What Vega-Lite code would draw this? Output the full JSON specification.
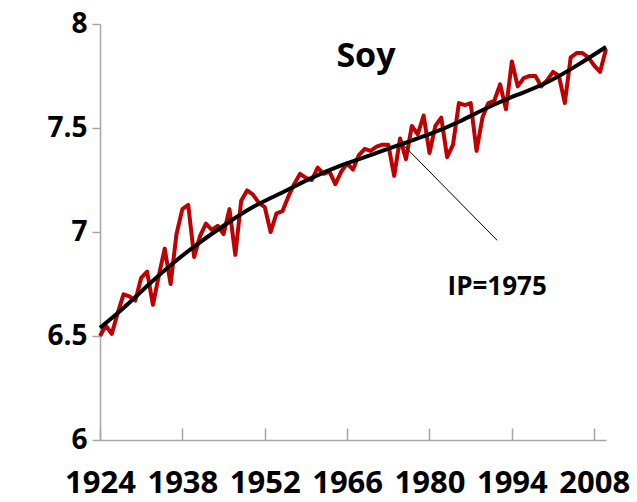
{
  "$schema": "https://vega.github.io/schema/vega-lite/v6.json",
  "width": 506,
  "height": 416,
  "autosize": {"type": "none"},
  "padding": {"left": 100, "top": 24, "right": 31, "bottom": 62},
  "background": "white",
  "config": {
    "view": {"stroke": null},
    "font": "Open Sans",
    "axis": {"grid": false, "title": null, "domainColor": "#A6A6A6", "tickColor": "#A6A6A6", "domainWidth": 1.5, "tickWidth": 1.5, "labelFont": "Open Sans", "labelFontWeight": "bold", "labelColor": "black", "labelFontSize": 28, "labelOverlap": false, "labelFlush": false}
  },
  "datasets": {
    "soy": [
      {"year": 1924, "value": 6.50}, {"year": 1925, "value": 6.55}, {"year": 1926, "value": 6.51}, {"year": 1927, "value": 6.61},
      {"year": 1928, "value": 6.70}, {"year": 1929, "value": 6.69}, {"year": 1930, "value": 6.67}, {"year": 1931, "value": 6.78},
      {"year": 1932, "value": 6.81}, {"year": 1933, "value": 6.65}, {"year": 1934, "value": 6.79}, {"year": 1935, "value": 6.92},
      {"year": 1936, "value": 6.75}, {"year": 1937, "value": 6.99}, {"year": 1938, "value": 7.11}, {"year": 1939, "value": 7.13},
      {"year": 1940, "value": 6.88}, {"year": 1941, "value": 6.98}, {"year": 1942, "value": 7.04}, {"year": 1943, "value": 7.01},
      {"year": 1944, "value": 7.03}, {"year": 1945, "value": 6.99}, {"year": 1946, "value": 7.11}, {"year": 1947, "value": 6.89},
      {"year": 1948, "value": 7.15}, {"year": 1949, "value": 7.20}, {"year": 1950, "value": 7.18}, {"year": 1951, "value": 7.14},
      {"year": 1952, "value": 7.12}, {"year": 1953, "value": 7.00}, {"year": 1954, "value": 7.09}, {"year": 1955, "value": 7.10},
      {"year": 1956, "value": 7.17}, {"year": 1957, "value": 7.23}, {"year": 1958, "value": 7.28}, {"year": 1959, "value": 7.26},
      {"year": 1960, "value": 7.25}, {"year": 1961, "value": 7.31}, {"year": 1962, "value": 7.28}, {"year": 1963, "value": 7.29},
      {"year": 1964, "value": 7.23}, {"year": 1965, "value": 7.29}, {"year": 1966, "value": 7.33}, {"year": 1967, "value": 7.30},
      {"year": 1968, "value": 7.37}, {"year": 1969, "value": 7.40}, {"year": 1970, "value": 7.39}, {"year": 1971, "value": 7.41},
      {"year": 1972, "value": 7.42}, {"year": 1973, "value": 7.42}, {"year": 1974, "value": 7.27}, {"year": 1975, "value": 7.45},
      {"year": 1976, "value": 7.35}, {"year": 1977, "value": 7.51}, {"year": 1978, "value": 7.47}, {"year": 1979, "value": 7.56},
      {"year": 1980, "value": 7.38}, {"year": 1981, "value": 7.51}, {"year": 1982, "value": 7.55}, {"year": 1983, "value": 7.36},
      {"year": 1984, "value": 7.42}, {"year": 1985, "value": 7.62}, {"year": 1986, "value": 7.61}, {"year": 1987, "value": 7.62},
      {"year": 1988, "value": 7.39}, {"year": 1989, "value": 7.55}, {"year": 1990, "value": 7.62}, {"year": 1991, "value": 7.63},
      {"year": 1992, "value": 7.71}, {"year": 1993, "value": 7.59}, {"year": 1994, "value": 7.82}, {"year": 1995, "value": 7.70},
      {"year": 1996, "value": 7.74}, {"year": 1997, "value": 7.75}, {"year": 1998, "value": 7.75}, {"year": 1999, "value": 7.70},
      {"year": 2000, "value": 7.73}, {"year": 2001, "value": 7.77}, {"year": 2002, "value": 7.75}, {"year": 2003, "value": 7.62},
      {"year": 2004, "value": 7.84}, {"year": 2005, "value": 7.86}, {"year": 2006, "value": 7.86}, {"year": 2007, "value": 7.84},
      {"year": 2008, "value": 7.80}, {"year": 2009, "value": 7.77}, {"year": 2010, "value": 7.88}
    ],
    "fit": [
      {"year": 1924, "value": 6.54}, {"year": 1928, "value": 6.635}, {"year": 1932, "value": 6.74}, {"year": 1936, "value": 6.84},
      {"year": 1940, "value": 6.93}, {"year": 1945, "value": 7.03}, {"year": 1950, "value": 7.12}, {"year": 1955, "value": 7.19},
      {"year": 1960, "value": 7.26}, {"year": 1965, "value": 7.32}, {"year": 1970, "value": 7.37}, {"year": 1975, "value": 7.42},
      {"year": 1980, "value": 7.47}, {"year": 1985, "value": 7.53}, {"year": 1990, "value": 7.60}, {"year": 1995, "value": 7.66},
      {"year": 2000, "value": 7.72}, {"year": 2005, "value": 7.80}, {"year": 2010, "value": 7.89}
    ],
    "pointer": [{"year": 1975.5, "value": 7.42, "year2": 1991.5, "value2": 6.96}],
    "labels": [
      {"year": 1969.2, "value": 7.84, "text": "Soy", "size": 34},
      {"year": 1991.5, "value": 6.735, "text": "IP=1975", "size": 26}
    ]
  },
  "layer": [
    {
      "data": {"name": "soy"},
      "mark": {"type": "line", "color": "#C00000", "strokeWidth": 4, "strokeJoin": "round"},
      "encoding": {
        "x": {"field": "year", "type": "quantitative", "scale": {"domain": [1924, 2010], "nice": false, "zero": false},
          "axis": {"values": [1924, 1938, 1952, 1966, 1980, 1994, 2008], "format": "d", "tickSize": -12, "labelPadding": 40, "labelFontSize": 31}},
        "y": {"field": "value", "type": "quantitative", "scale": {"domain": [6, 8], "nice": false, "zero": false},
          "axis": {"values": [6, 6.5, 7, 7.5, 8], "format": "~g", "tickSize": 8, "labelPadding": 5}}
      }
    },
    {
      "data": {"name": "fit"},
      "mark": {"type": "line", "color": "black", "strokeWidth": 4, "interpolate": "natural"},
      "encoding": {
        "x": {"field": "year", "type": "quantitative"},
        "y": {"field": "value", "type": "quantitative"}
      }
    },
    {
      "data": {"name": "pointer"},
      "mark": {"type": "rule", "color": "black", "strokeWidth": 1},
      "encoding": {
        "x": {"field": "year", "type": "quantitative"},
        "y": {"field": "value", "type": "quantitative"},
        "x2": {"field": "year2"},
        "y2": {"field": "value2"}
      }
    },
    {
      "data": {"name": "labels"},
      "mark": {"type": "text", "fontWeight": "bold", "color": "black", "align": "center", "baseline": "middle"},
      "encoding": {
        "x": {"field": "year", "type": "quantitative"},
        "y": {"field": "value", "type": "quantitative"},
        "text": {"field": "text"},
        "size": {"field": "size", "type": "quantitative", "scale": null}
      }
    }
  ]
}
